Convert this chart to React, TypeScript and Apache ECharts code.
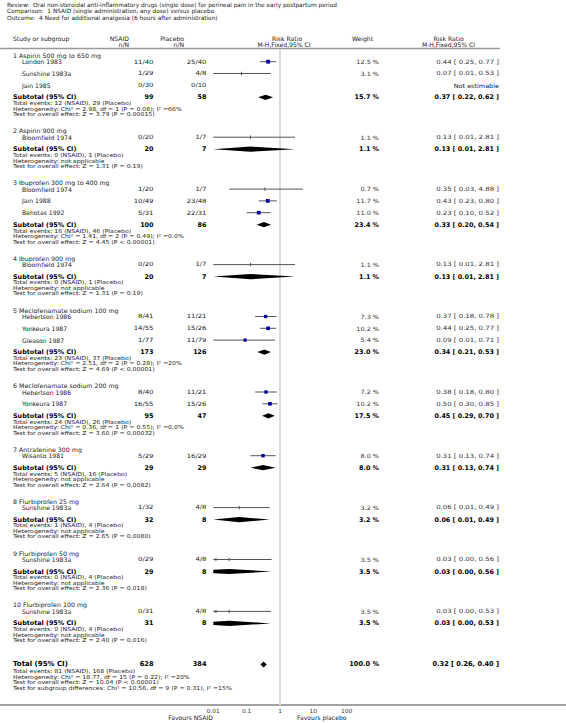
import React, { useEffect, useRef } from "react";
import * as echarts from "echarts";

const FONT = '"DejaVu Sans", Verdana, sans-serif';

const titleLines = [
  "Review:  Oral non-steroidal anti-inflammatory drugs (single dose) for perineal pain in the early postpartum period",
  "Comparison:  1 NSAID (single administration, any dose) versus placebo",
  "Outcome:  4 Need for additional analgesia (6 hours after administration)",
];

const axisTicks = [0.01, 0.1, 1, 10, 100];
const AXIS_MIN = 0.01;
const AXIS_MAX = 100;

const groupNames = [
  "1 Aspirin 500 mg to 650 mg",
  "2 Aspirin 900 mg",
  "3 Ibuprofen 300 mg to 400 mg",
  "4 Ibuprofen 900 mg",
  "5 Meclofenamate sodium 100 mg",
  "6 Meclofenamate sodium 200 mg",
  "7 Antrafenine 300 mg",
  "8 Flurbiprofen 25 mg",
  "9 Flurbiprofen 50 mg",
  "10 Flurbiprofen 100 mg",
];

const studyGroup = [0, 0, 0, 1, 2, 2, 2, 3, 4, 4, 4, 5, 5, 6, 7, 8, 9];
const studyNames = [
  "London 1983", "Sunshine 1983a", "Jain 1985",
  "Bloomfield 1974",
  "Bloomfield 1974", "Jain 1988", "Behotas 1992",
  "Bloomfield 1974",
  "Hebertson 1986", "Yonkeura 1987", "Gleason 1987",
  "Hebertson 1986", "Yonkeura 1987",
  "Wisanto 1981",
  "Sunshine 1983a",
  "Sunshine 1983a",
  "Sunshine 1983a",
];
const nsaidEvents = [11, 1, 0, 0, 1, 10, 5, 0, 8, 14, 1, 8, 16, 5, 1, 0, 0];
const nsaidTotal = [40, 29, 30, 20, 20, 49, 31, 20, 41, 55, 77, 40, 55, 29, 32, 29, 31];
const placeboEvents = [25, 4, 0, 1, 1, 23, 22, 1, 11, 15, 11, 11, 15, 16, 4, 4, 4];
const placeboTotal = [40, 8, 10, 7, 7, 48, 31, 7, 21, 26, 79, 21, 26, 29, 8, 8, 8];
const studyWeight: (number | null)[] = [12.5, 3.1, null, 1.1, 0.7, 11.7, 11.0, 1.1, 7.3, 10.2, 5.4, 7.2, 10.2, 8.0, 3.2, 3.5, 3.5];
const studyRR: (number | null)[] = [0.44, 0.07, null, 0.13, 0.35, 0.43, 0.23, 0.13, 0.37, 0.44, 0.09, 0.38, 0.5, 0.31, 0.06, 0.03, 0.03];
const studyLow: (number | null)[] = [0.25, 0.01, null, 0.01, 0.03, 0.23, 0.1, 0.01, 0.18, 0.25, 0.01, 0.18, 0.3, 0.13, 0.01, 0.0016, 0.0017];
const studyHigh: (number | null)[] = [0.77, 0.53, null, 2.81, 4.88, 0.8, 0.52, 2.81, 0.78, 0.77, 0.71, 0.8, 0.85, 0.74, 0.49, 0.56, 0.53];

const subN1 = [99, 20, 100, 20, 173, 95, 29, 32, 29, 31];
const subN2 = [58, 7, 86, 7, 126, 47, 29, 8, 8, 8];
const subWeight = [15.7, 1.1, 23.4, 1.1, 23.0, 17.5, 8.0, 3.2, 3.5, 3.5];
const subRR = [0.37, 0.13, 0.33, 0.13, 0.34, 0.45, 0.31, 0.06, 0.03, 0.03];
const subLow = [0.22, 0.01, 0.2, 0.01, 0.21, 0.29, 0.13, 0.01, 0.0016, 0.0017];
const subHigh = [0.62, 2.81, 0.54, 2.81, 0.53, 0.7, 0.74, 0.49, 0.56, 0.53];
const subEvents1 = [12, 0, 16, 0, 23, 24, 5, 1, 0, 0];
const subEvents2 = [29, 1, 46, 1, 37, 26, 16, 4, 4, 4];
const subHet = [
  "Chi² = 2.98, df = 1 (P = 0.08); I² =66%",
  "not applicable",
  "Chi² = 1.41, df = 2 (P = 0.49); I² =0.0%",
  "not applicable",
  "Chi² = 2.51, df = 2 (P = 0.28); I² =20%",
  "Chi² = 0.36, df = 1 (P = 0.55); I² =0.0%",
  "not applicable",
  "not applicable",
  "not applicable",
  "not applicable",
];
const subTest = [
  "Z = 3.79 (P = 0.00015)",
  "Z = 1.31 (P = 0.19)",
  "Z = 4.45 (P < 0.00001)",
  "Z = 1.31 (P = 0.19)",
  "Z = 4.69 (P < 0.00001)",
  "Z = 3.60 (P = 0.00032)",
  "Z = 2.64 (P = 0.0082)",
  "Z = 2.65 (P = 0.0080)",
  "Z = 2.36 (P = 0.018)",
  "Z = 2.40 (P = 0.016)",
];

const totalN = [628, 384];
const totalWeight = 100.0;
const totalEst = [0.32, 0.26, 0.4];
const totalEvents = [81, 168];
const totalHet = "Chi² = 18.77, df = 15 (P = 0.22); I² =20%";
const totalTest = "Z = 10.04 (P < 0.00001)";
const subgroupTest = "Chi² = 10.56, df = 9 (P = 0.31), I² =15%";

const BLUE = "#0000a0";
const LINE = "#555555";
const TXT = "#1a1a1a";

type TextItem = { t: string; x: number; y: number; a: "left" | "right" | "center"; s: number; b?: boolean; c?: string; sx?: number };
type Mark = { kind: "vline" | "study" | "diamond"; y: number; rr?: number; lo?: number; hi?: number; w?: number; h?: number; y1?: number };

const COL = { title: 7, left: 13, study: 22, n1: 153.5, n2: 206.5, w: 379, ci: 499 };
const AXIS_Y = 705;
const STAT_FS = 5.4;
const STAT_SX = 1.15;
const STAT_GAP = 5.5;
const NUM_FS = 5.9;
const NUM_SX = 1.17;

function fmtCI(rr: number, lo: number, hi: number) {
  return `${rr.toFixed(2)} [ ${lo.toFixed(2)}, ${hi.toFixed(2)} ]`;
}

function buildLayout() {
  const texts: TextItem[] = [];
  const marks: Mark[] = [{ kind: "vline", y: 49, y1: AXIS_Y }];
  titleLines.forEach((t, i) => texts.push({ t, x: COL.title, y: 5 + i * 6.3, a: "left", s: 5.8 }));
  const hy1 = 38.3, hy2 = 44.3;
  texts.push({ t: "Study or subgroup", x: COL.left, y: hy1, a: "left", s: 6.1 });
  texts.push({ t: "NSAID", x: 129, y: hy1, a: "right", s: 6.1 });
  texts.push({ t: "n/N", x: 129, y: hy2, a: "right", s: 6.1 });
  texts.push({ t: "Placebo", x: 184, y: hy1, a: "right", s: 6.1 });
  texts.push({ t: "n/N", x: 184, y: hy2, a: "right", s: 6.1 });
  texts.push({ t: "Risk Ratio", x: 287, y: hy1, a: "center", s: 6.1 });
  texts.push({ t: "M-H,Fixed,95% CI", x: 284, y: hy2, a: "center", s: 6.1 });
  texts.push({ t: "Weight", x: 362.5, y: hy1, a: "center", s: 6.1 });
  texts.push({ t: "Risk Ratio", x: 448.5, y: hy1, a: "center", s: 6.1 });
  texts.push({ t: "M-H,Fixed,95% CI", x: 448.5, y: hy2, a: "center", s: 6.1 });

  let y = 55.3;
  let lastTest = y;
  for (let g = 0; g < groupNames.length; g++) {
    texts.push({ t: groupNames[g], x: COL.left, y, a: "left", s: 6.1, sx: 1.03 });
    y += 6.4;
    const idx = studyGroup.map((gg, i) => (gg === g ? i : -1)).filter((i) => i >= 0);
    idx.forEach((i, k) => {
      if (k > 0) y += 11.8;
      texts.push({ t: studyNames[i], x: COL.study, y, a: "left", s: 6.1 });
      texts.push({ t: `${nsaidEvents[i]}/${nsaidTotal[i]}`, x: COL.n1, y, a: "right", s: NUM_FS, sx: NUM_SX });
      texts.push({ t: `${placeboEvents[i]}/${placeboTotal[i]}`, x: COL.n2, y, a: "right", s: NUM_FS, sx: NUM_SX });
      const rr = studyRR[i], lo = studyLow[i], hi = studyHigh[i], w = studyWeight[i];
      if (rr == null || lo == null || hi == null || w == null) {
        texts.push({ t: "Not estimable", x: COL.ci, y, a: "right", s: 5.9, sx: 1.1 });
      } else {
        texts.push({ t: `${w.toFixed(1)} %`, x: COL.w, y, a: "right", s: NUM_FS, sx: 1.1, c: "#333" });
        texts.push({ t: fmtCI(rr, lo, hi), x: COL.ci, y, a: "right", s: NUM_FS, sx: 1.18, c: "#333" });
        marks.push({ kind: "study", y, rr, lo, hi, w });
      }
    });
    y += 12;
    texts.push({ t: "Subtotal (95% CI)", x: COL.left, y, a: "left", s: 6.4, b: true, c: "#000" });
    texts.push({ t: `${subN1[g]}`, x: COL.n1, y, a: "right", s: 6.4, b: true, c: "#000" });
    texts.push({ t: `${subN2[g]}`, x: COL.n2, y, a: "right", s: 6.4, b: true, c: "#000" });
    texts.push({ t: `${subWeight[g].toFixed(1)} %`, x: COL.w, y, a: "right", s: 6.4, b: true, c: "#000" });
    texts.push({ t: fmtCI(subRR[g], subLow[g], subHigh[g]), x: COL.ci, y, a: "right", s: 6.4, b: true, c: "#000" });
    marks.push({ kind: "diamond", y, rr: subRR[g], lo: subLow[g], hi: subHigh[g], h: 2.6 });
    y += 6;
    texts.push({ t: `Total events: ${subEvents1[g]} (NSAID), ${subEvents2[g]} (Placebo)`, x: COL.left, y, a: "left", s: STAT_FS, sx: STAT_SX });
    y += STAT_GAP;
    texts.push({ t: `Heterogeneity: ${subHet[g]}`, x: COL.left, y, a: "left", s: STAT_FS, sx: STAT_SX });
    y += STAT_GAP;
    texts.push({ t: `Test for overall effect: ${subTest[g]}`, x: COL.left, y, a: "left", s: STAT_FS, sx: STAT_SX });
    lastTest = y;
    y += 16.5;
  }
  y = lastTest + 24;
  texts.push({ t: "Total (95% CI)", x: COL.left, y, a: "left", s: 7, b: true, c: "#000" });
  texts.push({ t: `${totalN[0]}`, x: COL.n1, y, a: "right", s: 6.6, b: true, c: "#000" });
  texts.push({ t: `${totalN[1]}`, x: COL.n2, y, a: "right", s: 6.6, b: true, c: "#000" });
  texts.push({ t: `${totalWeight.toFixed(1)} %`, x: COL.w, y, a: "right", s: 6.6, b: true, c: "#000" });
  texts.push({ t: fmtCI(totalEst[0], totalEst[1], totalEst[2]), x: COL.ci, y, a: "right", s: 6.6, b: true, c: "#000" });
  marks.push({ kind: "diamond", y, rr: totalEst[0], lo: totalEst[1], hi: totalEst[2], h: 3 });
  y += 6.8;
  texts.push({ t: `Total events: ${totalEvents[0]} (NSAID), ${totalEvents[1]} (Placebo)`, x: COL.left, y, a: "left", s: STAT_FS, sx: STAT_SX });
  y += STAT_GAP;
  texts.push({ t: `Heterogeneity: ${totalHet}`, x: COL.left, y, a: "left", s: STAT_FS, sx: STAT_SX });
  y += STAT_GAP;
  texts.push({ t: `Test for overall effect: ${totalTest}`, x: COL.left, y, a: "left", s: STAT_FS, sx: STAT_SX });
  y += STAT_GAP;
  texts.push({ t: `Test for subgroup differences: ${subgroupTest}`, x: COL.left, y, a: "left", s: STAT_FS, sx: STAT_SX });

  texts.push({ t: "Favours NSAID", x: 213, y: 717.5, a: "right", s: 6.1 });
  texts.push({ t: "Favours placebo", x: 297, y: 717.5, a: "left", s: 6.1 });
  return { texts, marks };
}

export default function App() {
  const ref = useRef<HTMLDivElement>(null);
  useEffect(() => {
    if (!ref.current) return;
    const chart = echarts.init(ref.current, undefined, { renderer: "svg" });
    const { texts, marks } = buildLayout();

    const graphics: any[] = [
      { type: "line", silent: true, shape: { x1: 0, y1: 48.5, x2: 500, y2: 48.5 }, style: { stroke: "#999", lineWidth: 1.5 } },
      { type: "line", silent: true, shape: { x1: 0, y1: AXIS_Y, x2: 566, y2: AXIS_Y }, style: { stroke: "#444", lineWidth: 1 } },
      ...texts.map((t) => ({
        type: "text",
        silent: true,
        x: t.x,
        y: t.y,
        scaleX: t.sx ?? 1,
        style: {
          text: t.t,
          fill: t.c || TXT,
          fontSize: t.s,
          fontFamily: FONT,
          fontWeight: t.b ? "bold" : "normal",
          align: t.a,
          textAlign: t.a,
          verticalAlign: "middle",
          textVerticalAlign: "middle",
        },
      })),
    ];

    const option: any = {
      animation: false,
      grid: { left: 213.3, width: 133.4, top: 0, height: AXIS_Y },
      xAxis: {
        type: "log",
        logBase: 10,
        min: AXIS_MIN,
        max: AXIS_MAX,
        axisLine: { show: false },
        axisTick: { show: true, inside: true, length: 2, lineStyle: { color: "#444", width: 1 } },
        axisLabel: {
          fontSize: 5.9,
          color: "#333",
          fontFamily: FONT,
          margin: 3,
          formatter: (v: number) => {
            const hit = axisTicks.find((t) => Math.abs(Math.log10(t) - Math.log10(v)) < 1e-6);
            return hit !== undefined ? String(hit) : "";
          },
        },
        splitLine: { show: false },
      },
      yAxis: { type: "value", min: 0, max: AXIS_Y, inverse: true, show: false },
      graphic: graphics,
      series: [
        {
          type: "custom",
          silent: true,
          encode: { x: 0, y: 1 },
          data: marks.map((m, i) => [m.rr ?? 1, m.y, i]),
          renderItem: (_params: any, api: any) => {
            const m = marks[api.value(2) as number];
            const X = (v: number) => api.coord([v, 1])[0];
            const Y = (v: number) => api.coord([1, v])[1];
            const xl = X(AXIS_MIN), xr = X(AXIS_MAX);
            if (m.kind === "vline") {
              return {
                type: "line",
                shape: { x1: X(1), y1: Y(m.y), x2: X(1), y2: Y(m.y1 as number) },
                style: { stroke: "#dcdcdc", lineWidth: 2 },
              };
            }
            const y = Y(m.y);
            const rr = m.rr as number, lo = m.lo as number, hi = m.hi as number;
            if (m.kind === "study") {
              const xLo = X(lo), xHi = X(hi), xc = X(rr);
              const x0 = Math.max(xLo, xl), x1 = Math.min(xHi, xr);
              const children: any[] = [
                { type: "line", shape: { x1: x0, y1: y, x2: x1, y2: y }, style: { stroke: LINE, lineWidth: 1 } },
              ];
              if (xLo < xl - 0.5) {
                children.push({ type: "polygon", shape: { points: [[xl, y], [xl + 3.2, y - 1.6], [xl + 3.2, y + 1.6]] }, style: { fill: LINE } });
              }
              if (xHi > xr + 0.5) {
                children.push({ type: "polygon", shape: { points: [[xr, y], [xr - 3.2, y - 1.6], [xr - 3.2, y + 1.6]] }, style: { fill: LINE } });
              }
              const w = m.w as number;
              if (w >= 5) {
                const s = 2.6 + 0.1 * w;
                children.push({ type: "rect", shape: { x: xc - s / 2, y: y - s / 2, width: s, height: s }, style: { fill: BLUE } });
              } else {
                children.push({ type: "line", shape: { x1: xc, y1: y - 1.7, x2: xc, y2: y + 1.7 }, style: { stroke: LINE, lineWidth: 1 } });
              }
              return { type: "group", children };
            }
            const h = m.h as number;
            const lL = Math.log10(lo), lC = Math.log10(rr), lH = Math.log10(hi);
            const minL = Math.log10(AXIS_MIN), maxL = Math.log10(AXIS_MAX);
            const xc = X(rr);
            const pts: number[][] = [];
            if (lL < minL) {
              const f = (minL - lL) / (lC - lL);
              pts.push([xl, y + h * f], [xl, y - h * f]);
            } else {
              pts.push([X(lo), y]);
            }
            pts.push([xc, y - h]);
            if (lH > maxL) {
              const f = (lH - maxL) / (lH - lC);
              pts.push([xr, y - h * f], [xr, y + h * f]);
            } else {
              pts.push([X(hi), y]);
            }
            pts.push([xc, y + h]);
            return { type: "polygon", shape: { points: pts }, style: { fill: "#000" } };
          },
        },
      ],
    };
    chart.setOption(option);
    return () => chart.dispose();
  }, []);
  return <div ref={ref} style={{ position: "fixed", left: 0, top: 0, width: 566, height: 723, background: "#fff" }} />;
}
